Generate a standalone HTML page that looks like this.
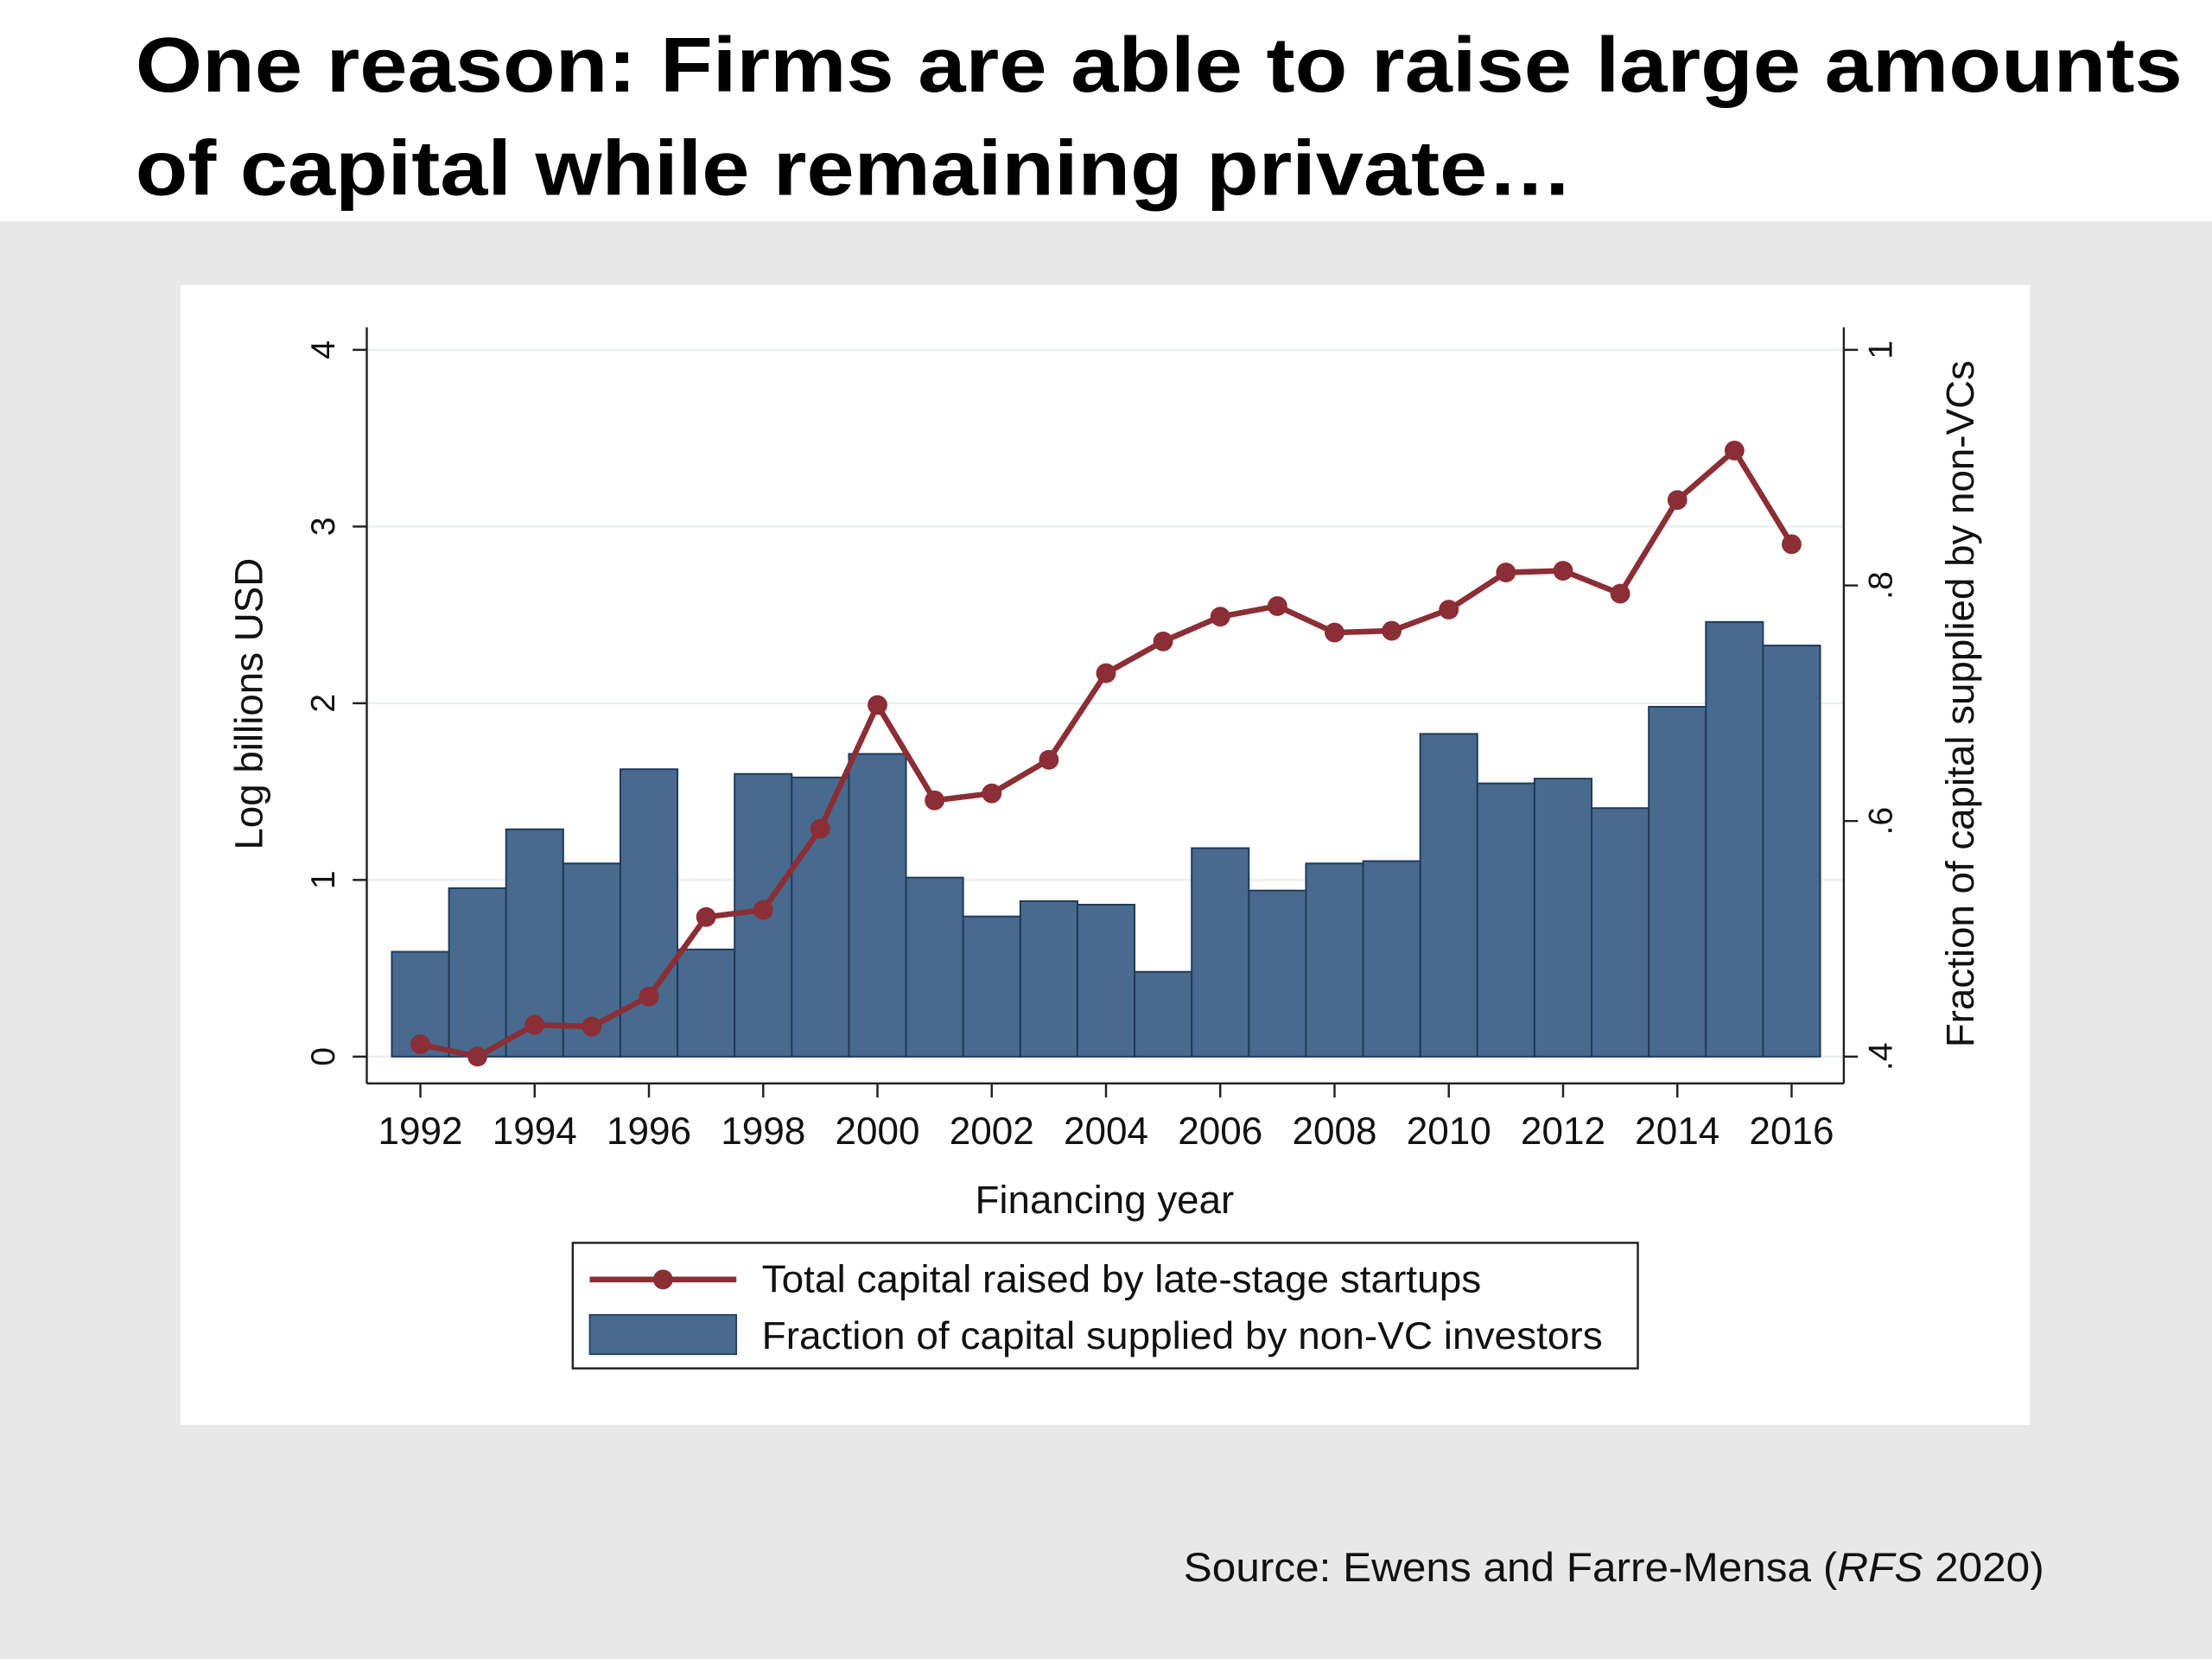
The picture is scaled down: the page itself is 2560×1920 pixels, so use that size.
<!DOCTYPE html>
<html><head><meta charset="utf-8"><style>
html,body{margin:0;padding:0;width:2560px;height:1920px;overflow:hidden;background:#e8e8e8}
svg{display:block}
text{font-family:"Liberation Sans",Arial,sans-serif}
</style></head><body>
<svg id="chart" width="2560" height="1920" viewBox="0 0 1568 1176" xmlns="http://www.w3.org/2000/svg">
<rect x="0" y="0" width="1568" height="157" fill="#ffffff"/>
<text x="96" y="65" font-size="55" font-weight="bold" fill="#000" textLength="1451" lengthAdjust="spacingAndGlyphs">One reason: Firms are able to raise large amounts</text>
<text x="96" y="138" font-size="55" font-weight="bold" fill="#000" textLength="1019" lengthAdjust="spacingAndGlyphs">of capital while remaining private…</text>
<rect x="128" y="202" width="1311" height="808" fill="#ffffff"/>
<g id="grid"></g>
<g id="bars"></g>
<g id="line"></g>
<g id="axes"></g>
<text transform="translate(186,499) rotate(-90)" text-anchor="middle" font-size="28" fill="#111">Log billions USD</text>
<text transform="translate(1399,499) rotate(-90)" text-anchor="middle" font-size="28" fill="#111">Fraction of capital supplied by non-VCs</text>
<text x="783" y="860" text-anchor="middle" font-size="28" fill="#111">Financing year</text>
<g>
<rect x="406" y="881" width="755" height="89" fill="#fff" stroke="#222" stroke-width="1.5"/>
<line x1="418" y1="907" x2="522" y2="907" stroke="#8b2e35" stroke-width="4"/>
<circle cx="470" cy="907" r="7" fill="#8b2e35"/>
<text x="540" y="916" font-size="27" fill="#111" textLength="510" lengthAdjust="spacingAndGlyphs">Total capital raised by late-stage startups</text>
<rect x="418" y="932" width="104" height="28" fill="#476a8e" stroke="#1f3a5a"/>
<text x="540" y="956" font-size="27" fill="#111" textLength="596" lengthAdjust="spacingAndGlyphs">Fraction of capital supplied by non-VC investors</text>
</g>
<text x="839" y="1121" font-size="29" fill="#111" textLength="610" lengthAdjust="spacingAndGlyphs">Source: Ewens and Farre-Mensa (<tspan font-style="italic">RFS</tspan> 2020)</text>
</svg>
<script>
const years = [1992,1993,1994,1995,1996,1997,1998,1999,2000,2001,2002,2003,2004,2005,2006,2007,2008,2009,2010,2011,2012,2013,2014,2015,2016];
const fractionNonVC = [0.489,0.543,0.593,0.564,0.644,0.491,0.640,0.637,0.657,0.552,0.519,0.532,0.529,0.472,0.577,0.541,0.564,0.566,0.674,0.632,0.636,0.611,0.697,0.769,0.749];
const logCapital = [0.07,0.0,0.18,0.17,0.34,0.79,0.83,1.29,1.99,1.45,1.49,1.68,2.17,2.35,2.49,2.55,2.40,2.41,2.53,2.74,2.75,2.62,3.15,3.43,2.90];
const leftTicks = [0,1,2,3,4];
const rightTicks = [0.4,0.6,0.8,1.0];
const rightTickLabels = [".4",".6",".8","1"];
const xTickYears = [1992,1994,1996,1998,2000,2002,2004,2006,2008,2010,2012,2014,2016];

const NS="http://www.w3.org/2000/svg";
const xS = y => 298 + (y-1992)*40.5;
const yL = v => 749 - v*125.25;
const yR = f => 749 - (f-0.4)*(501/0.6);
function mk(tag, attrs, parent){const e=document.createElementNS(NS,tag);for(const k in attrs)e.setAttribute(k,attrs[k]);parent.appendChild(e);return e;}
const grid=document.getElementById('grid'),bars=document.getElementById('bars'),line=document.getElementById('line'),axes=document.getElementById('axes');

leftTicks.forEach(t=>{
  const g=mk('line',{x1:260,x2:1307,y1:yL(t),y2:yL(t),stroke:'#eaf0f2','stroke-width':1.5},grid);
  
  
  const tk=mk('line',{x1:250,x2:260,y1:yL(t),y2:yL(t),stroke:'#222','stroke-width':1.5},axes);
  
  
  const tx=mk('text',{transform:`translate(237,${yL(t)}) rotate(-90)`,'text-anchor':'middle','font-size':24,fill:'#111'},axes);
  tx.textContent=t;
  
  
});
rightTicks.forEach((t,i)=>{
  const tk=mk('line',{x1:1307,x2:1317,y1:yR(t),y2:yR(t),stroke:'#222','stroke-width':1.5},axes);
  
  
  const tx=mk('text',{transform:`translate(1341,${yR(t)}) rotate(-90)`,'text-anchor':'middle','font-size':24,fill:'#111'},axes);
  tx.textContent=rightTickLabels[i];
  
  
});
years.forEach((y,i)=>{
  const top=yR(fractionNonVC[i]);
  const r=mk('rect',{x:xS(y)-20.25,y:top,width:40.5,height:749-top,fill:'#476a8e',stroke:'#1f3a5a','stroke-width':1.2},bars);
  
  
});
const pts=years.map((y,i)=>xS(y)+','+yL(logCapital[i])).join(' ');
const pl=mk('polyline',{points:pts,fill:'none',stroke:'#8b2e35','stroke-width':4,'stroke-linejoin':'round'},line);


years.forEach((y,i)=>{
  const c=mk('circle',{cx:xS(y),cy:yL(logCapital[i]),r:7,fill:'#8b2e35'},line);
  
  
});
[[260,232,260,768],[1307,232,1307,768],[260,768,1307,768]].forEach(a=>{
  const l=mk('line',{x1:a[0],y1:a[1],x2:a[2],y2:a[3],stroke:'#222','stroke-width':1.5},axes);
  
  
});
xTickYears.forEach(y=>{
  const tk=mk('line',{x1:xS(y),x2:xS(y),y1:768,y2:778,stroke:'#222','stroke-width':1.5},axes);
  
  
  const tx=mk('text',{x:xS(y),y:811,'text-anchor':'middle','font-size':27,fill:'#111'},axes);
  tx.textContent=y;
  
  
});
</script>
</body></html>
